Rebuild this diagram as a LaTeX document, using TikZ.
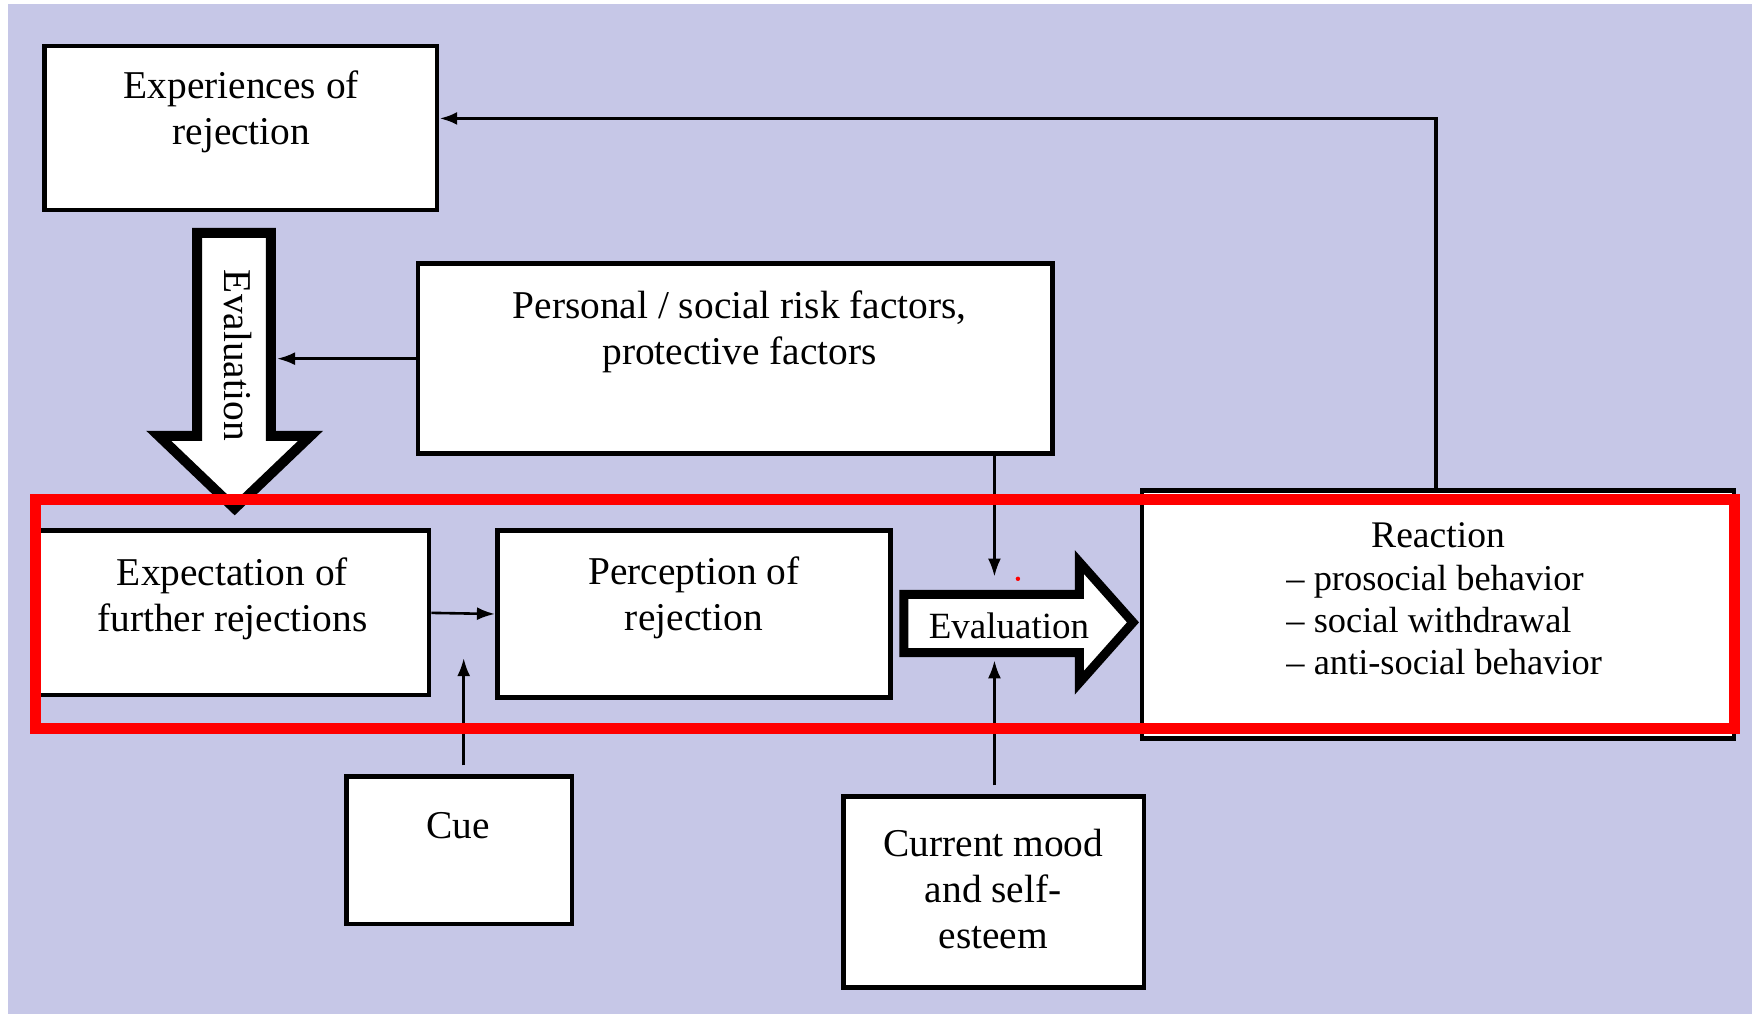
\documentclass[tikz,border=0pt]{standalone}
\usepackage{fontspec}
\setmainfont{Liberation Serif}
\usetikzlibrary{arrows.meta,fit}
\definecolor{lav}{RGB}{198,199,231}
\begin{document}
\begin{tikzpicture}[x=0.5587pt,y=-0.5587pt,
  box/.style={draw=black, line width=2.3pt, fill=white, inner sep=0pt, fit={#1}},
  txt/.style={align=center, inner sep=0pt, font=\fontsize{19.7}{23}\selectfont},
  bigarrow/.style={draw=black, fill=white, line width=5pt, line join=miter, miter limit=10},
  conn/.style={draw=black, line width=1.3pt, -{Latex[length=9pt,width=6.5pt]}},
  redframe/.style={draw={rgb,255:red,255;green,0;blue,0}, line width=5.6pt, inner sep=0pt, fit={#1}}
]
\useasboundingbox (0,0) rectangle (1568,907.5);
\fill[white] (0,0) rectangle (1568,907.5);
\fill[lav] (7,3.5) rectangle (1568,907.5);

% boxes
\node[box={(40,41) (391,188)}] (exper) {};
\node[box={(374,236) (942,406)}] (personal) {};
\node[box={(35,475) (384,622)}] (expect) {};
\node[box={(445,475) (797,624)}] (percep) {};
\node[box={(310,695) (512,827)}] (cue) {};
\node[box={(755,713) (1024,884)}] (mood) {};
\node[box={(1022,439) (1552,661)}] (reaction) {};

% texts
\node[txt] (experT) at (216,100.5) {Experiences of\\rejection};
\node[txt] (personalT) at (662,297) {Personal / social risk factors,\\protective factors};
\node[txt] (expectT) at (208,535.5) {Expectation of\\further rejections};
\node[txt] (percepT) at (621,535) {Perception of\\rejection};
\node[txt] (cueT) at (410,739) {Cue};
\node[txt] (moodT) at (889,796) {Current mood\\and self-\\esteem};
\node[txt, font=\fontsize{18.8}{21}\selectfont] (reactT) at (1287,479) {Reaction};
\node[txt, align=left, anchor=west, font=\fontsize{18.2}{20.8}\selectfont] (reactL) at (1151,555)
  {– prosocial behavior\\– social withdrawal\\– anti-social behavior};

% big arrows
\draw[bigarrow] (176.5,208.5) -- (242.5,208.5) -- (242.5,390) -- (278,390) -- (210,455)
  -- (142,390) -- (176.5,390) -- cycle;
\node[txt, rotate=-90] (evalV) at (213,318) {Evaluation};
\draw[bigarrow, line width=4.5pt] (809,532) -- (966,532) -- (966,503) -- (1014,557)
  -- (966,611) -- (966,584) -- (809,584) -- cycle;
\node[txt, font=\fontsize{18.5}{22}\selectfont] (evalH) at (903,560) {Evaluation};

% coordinates
\coordinate (dshaft) at (248,322);
\coordinate (evtop) at (890,516);
\coordinate (evbot) at (890,591);
\coordinate (cuetip) at (415,589);
\coordinate (fb) at (1285,106);

% connectors
\draw[conn] (personal.west) -- (personal.west -| dshaft);
\draw[conn] (expect.east) -- (percep.west);
\draw[conn, shorten <=4.5pt] (cue.north -| cuetip) -- (cuetip);
\draw[conn] (personal.south -| evtop) -- (evtop);
\draw[conn, shorten <=4.5pt] (mood.north -| evbot) -- (evbot);
\draw[conn, line width=1.9pt] (reaction.north -| fb) -- (fb) -- (fb -| exper.east);

% highlight frame
\node[redframe={(32,447) (1552,652)}] (hl) {};
\fill[red] (911,518) circle (1.1pt);
\end{tikzpicture}
\end{document}
